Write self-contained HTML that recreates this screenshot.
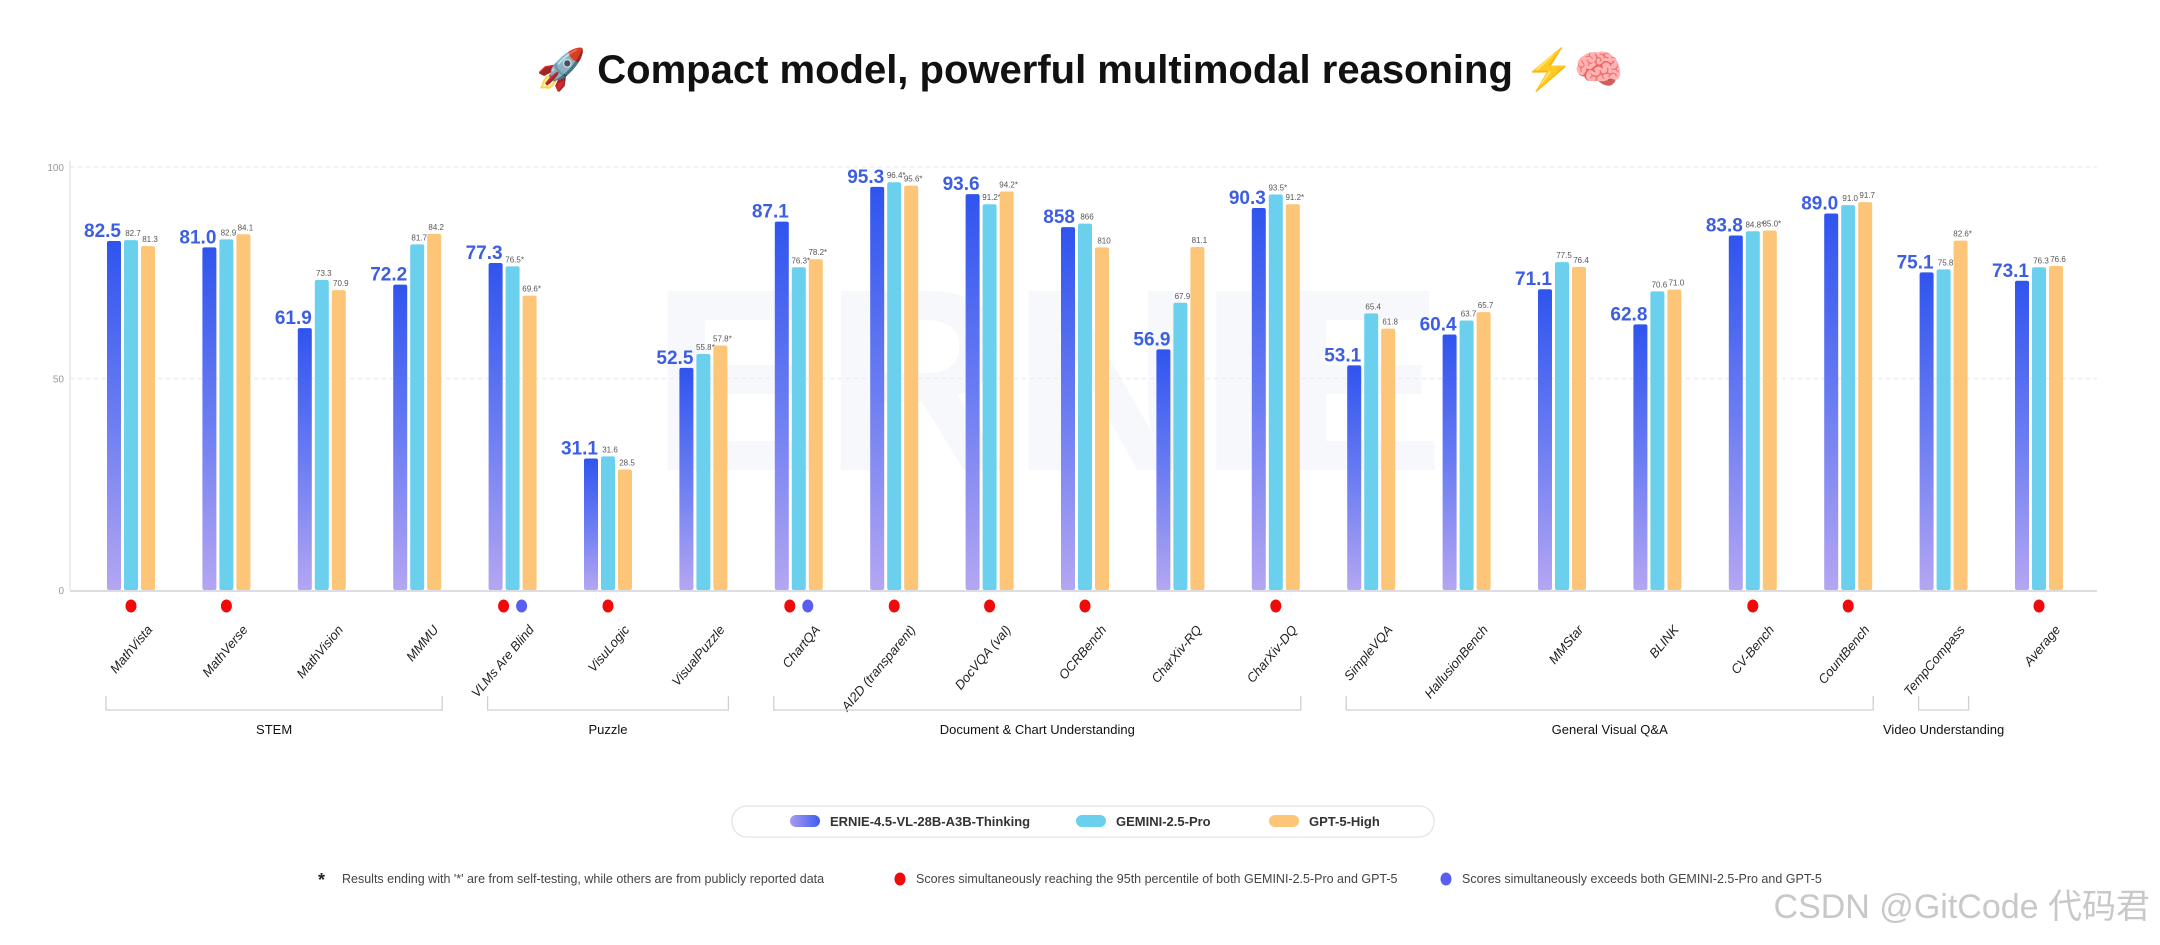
<!DOCTYPE html>
<html><head><meta charset="utf-8">
<style>
html,body{margin:0;padding:0;background:#fff;}
body{width:2160px;height:945px;overflow:hidden;font-family:"Liberation Sans","Noto Sans CJK SC",sans-serif;position:relative;}
#title{position:absolute;left:0;width:2160px;top:46px;text-align:center;font-size:40px;font-weight:bold;color:#111;}
svg{position:absolute;left:0;top:0;}
</style></head>
<body>
<div id="title">🚀 Compact model, powerful multimodal reasoning ⚡🧠</div>
<svg id="chart" width="2160" height="945">
<defs>
<linearGradient id="ern" x1="0" y1="0" x2="0" y2="1"><stop offset="0" stop-color="#2f54ee"/><stop offset="0.5" stop-color="#6a7cf2"/><stop offset="1" stop-color="#b4a6f2"/></linearGradient>
<linearGradient id="ernH" x1="0" y1="0" x2="1" y2="0"><stop offset="0" stop-color="#a99cf2"/><stop offset="1" stop-color="#3f5df0"/></linearGradient>
</defs>
<text x="650" y="470" font-size="260" font-weight="bold" fill="#f7f8fc">ERNIE</text>
</svg>
<script>
const categories=["MathVista","MathVerse","MathVision","MMMU","VLMs Are Blind","VisuLogic","VisualPuzzle","ChartQA","AI2D (transparent)","DocVQA (val)","OCRBench","CharXiv-RQ","CharXiv-DQ","SimpleVQA","HallusionBench","MMStar","BLINK","CV-Bench","CountBench","TempCompass","Average"];
const ernie=[82.5,81.0,61.9,72.2,77.3,31.1,52.5,87.1,95.3,93.6,85.8,56.9,90.3,53.1,60.4,71.1,62.8,83.8,89.0,75.1,73.1];
const gemini=[82.7,82.9,73.3,81.7,76.5,31.6,55.8,76.3,96.4,91.2,86.6,67.9,93.5,65.4,63.7,77.5,70.6,84.8,91.0,75.8,76.3];
const gpt=[81.3,84.1,70.9,84.2,69.6,28.5,57.8,78.2,95.6,94.2,81.0,81.1,91.2,61.8,65.7,76.4,71.0,85.0,91.7,82.6,76.6];
const ernieLabels=["82.5","81.0","61.9","72.2","77.3","31.1","52.5","87.1","95.3","93.6","858","56.9","90.3","53.1","60.4","71.1","62.8","83.8","89.0","75.1","73.1"];
const geminiLabels=["82.7","82.9","73.3","81.7","76.5*","31.6","55.8*","76.3*","96.4*","91.2*","866","67.9","93.5*","65.4","63.7","77.5","70.6","84.8*","91.0","75.8","76.3"];
const gptLabels=["81.3","84.1","70.9","84.2","69.6*","28.5","57.8*","78.2*","95.6*","94.2*","810","81.1","91.2*","61.8","65.7","76.4","71.0","85.0*","91.7","82.6*","76.6"];
const redDots=[1,1,0,0,1,1,0,1,1,1,1,0,1,0,0,0,0,1,1,0,1];
const blueDots=[0,0,0,0,1,0,0,1,0,0,0,0,0,0,0,0,0,0,0,0,0];
const groupNames=["STEM","Puzzle","Document & Chart Understanding","General Visual Q&A","Video Understanding"];
const groupStart=[0,4,7,13,19];
const groupEnd=[3,6,12,18,19];
const yTicks=[0,50,100];

const NS="http://www.w3.org/2000/svg";
const svg=document.getElementById('chart');
const y0=590,y100=167,axisL=70,axisR=2097,c0=131,step=95.4;
const ys=v=>y0-(y0-y100)*v/100;
const xc=i=>c0+i*step;
function mk(t,a,p){const e=document.createElementNS(NS,t);for(const k in a)e.setAttribute(k,a[k]);(p||svg).appendChild(e);return e;}

yTicks.forEach(t=>{
  if(t>0){const g=mk('line',{x1:axisL,x2:axisR,y1:ys(t),y2:ys(t),stroke:'#eceef3','stroke-width':1.5,'stroke-dasharray':'4 4'});
  
  }
  const l=mk('text',{x:axisL-6,y:ys(t)+4,'font-size':10,fill:'#999','text-anchor':'end'});l.textContent=t;
  
  
});
let ax=mk('line',{x1:axisL,x2:axisL,y1:ys(100)-6,y2:y0,stroke:'#e6e6ea','stroke-width':1.5});


let bx=mk('line',{x1:axisL,x2:axisR,y1:y0+1,y2:y0+1,stroke:'#dcdde3','stroke-width':2});



const bw=14,pitch=17;
categories.forEach((c,i)=>{
  const cx=xc(i);
  const series=[[ernie[i],'url(#ern)',ernieLabels[i]],[gemini[i],'#6bd0ee',geminiLabels[i]],[gpt[i],'#fcc577',gptLabels[i]]];
  series.forEach((s,j)=>{
    const x=cx-bw/2+(j-1)*pitch, y=ys(s[0]);
    const r=mk('rect',{x:x,y:y,width:bw,height:y0-y,rx:2,fill:s[1]});
    
    
    let t;
    if(j===0){t=mk('text',{x:x+bw,y:y-4,'font-size':19,'font-weight':'bold',fill:'#3c5ee2','text-anchor':'end'});}
    else{t=mk('text',{x:x+bw/2+2,y:y-4,'font-size':8,fill:'#555','text-anchor':'middle'});}
    t.textContent=s[2];
    
    
  });
  const both=redDots[i]&&blueDots[i];
  if(redDots[i]){const d=mk('ellipse',{cx:both?cx-9:cx,cy:606,rx:5.5,ry:6.5,fill:'#f00a0a'});
    
    }
  if(blueDots[i]){const d=mk('ellipse',{cx:cx+9,cy:606,rx:5.5,ry:6.5,fill:'#5a5ef0'});
    
    }
  const lx=cx+22,ly=630;
  const t=mk('text',{x:lx,y:ly,'font-size':13,fill:'#222','text-anchor':'end','font-style':'italic',transform:`rotate(-50 ${lx} ${ly})`});
  t.textContent=c;
  
  
});

groupNames.forEach((g,k)=>{
  const x1=xc(groupStart[k])-25,x2=xc(groupEnd[k])+25;
  const p=mk('path',{d:`M${x1} 696 V710 H${x2} V696`,fill:'none',stroke:'#cfd0d6','stroke-width':1.3});
  
  
  const t=mk('text',{x:(x1+x2)/2,y:734,'font-size':13,fill:'#111','text-anchor':'middle'});
  t.textContent=g;
  
  
});

const lg=mk('rect',{x:732,y:806,width:702,height:31,rx:15,fill:'#fff',stroke:'#e3e4ea','stroke-width':1.3});


const legendNames=["ERNIE-4.5-VL-28B-A3B-Thinking","GEMINI-2.5-Pro","GPT-5-High"];
const legendFills=['url(#ernH)','#6bd0ee','#fcc577'];
const legendX=[790,1076,1269];
legendNames.forEach((n,k)=>{
  const s=mk('rect',{x:legendX[k],y:815,width:30,height:12,rx:6,fill:legendFills[k]});
  
  
  const t=mk('text',{x:legendX[k]+40,y:826,'font-size':13,'font-weight':'bold',fill:'#333'});
  t.textContent=n;
  
  
});

function fn(x,txt,name){const t=mk('text',{x:x,y:883,'font-size':12.5,fill:'#444'});t.textContent=txt;
  
  }
const st=mk('text',{x:318,y:886,'font-size':18,'font-weight':'bold',fill:'#222'});st.textContent='*';


fn(342,"Results ending with '*' are from self-testing, while others are from publicly reported data",'footnote-asterisk');
let rd=mk('ellipse',{cx:900,cy:879,rx:5.5,ry:6.5,fill:'#f00a0a'});


fn(916,"Scores simultaneously reaching the 95th percentile of both GEMINI-2.5-Pro and GPT-5",'footnote-red');
let bd=mk('ellipse',{cx:1446,cy:879,rx:5.5,ry:6.5,fill:'#5a5ef0'});


fn(1462,"Scores simultaneously exceeds both GEMINI-2.5-Pro and GPT-5",'footnote-blue');
const wm=mk('text',{x:2150,y:918,'font-size':34,fill:'#c8c8c8','text-anchor':'end','font-family':'"Liberation Sans","Noto Sans CJK SC",sans-serif'});
wm.textContent='CSDN @GitCode 代码君';


</script>
</body></html>
